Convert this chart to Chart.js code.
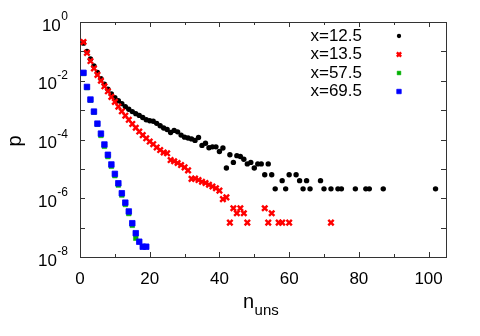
<!DOCTYPE html>
<html>
<head>
<meta charset="utf-8">
<script src="https://cdn.jsdelivr.net/npm/chart.js@4"></script>
<style>
body { margin: 0; background: #fff; }
</style>
</head>
<body>
<canvas id="chart" width="480" height="336"></canvas>
<script>
// values; y kept as log10(p)
const seriesLabels = ['x=12.5', 'x=13.5', 'x=57.5', 'x=69.5'];

const nBlack = [1, 2, 3, 4, 5, 6, 7, 8, 9, 10,
    11, 12, 13, 14, 15, 16, 17, 18, 19, 20,
    21, 22, 23, 24, 25, 26, 27, 28, 29, 30,
    31, 32, 33, 34, 35, 36, 37, 38, 39, 40,
    41, 42, 43, 44, 45, 46, 47, 48, 49, 50,
    51, 52, 53, 54, 55, 56, 58, 59, 60, 62,
    63, 64, 65, 66, 69, 70, 72, 74, 75, 79,
    82, 83, 87, 102];
const logBlack = [-0.72, -1.00, -1.26, -1.50, -1.72, -1.93, -2.12, -2.29, -2.45, -2.58,
    -2.68, -2.78, -2.88, -2.97, -3.05, -3.12, -3.18, -3.25, -3.33, -3.36,
    -3.38, -3.45, -3.53, -3.61, -3.66, -3.76, -3.69, -3.74, -3.85, -3.92,
    -3.95, -3.98, -4.03, -3.93, -4.20, -4.13, -4.28, -4.25, -4.25, -4.41,
    -4.29, -4.97, -4.52, -4.78, -4.55, -4.58, -4.67, -4.83, -4.78, -4.97,
    -4.83, -4.83, -5.20, -4.83, -5.20, -5.68, -5.40, -5.68, -5.20, -5.20,
    -5.40, -5.68, -5.40, -5.68, -5.40, -5.68, -5.68, -5.68, -5.68, -5.68,
    -5.68, -5.68, -5.68, -5.68];

const nRed = [1, 2, 3, 4, 5, 6, 7, 8, 9, 10,
    11, 12, 13, 14, 15, 16, 17, 18, 19, 20,
    21, 22, 23, 24, 25, 26, 27, 28, 29, 30,
    31, 32, 33, 34, 35, 36, 37, 38, 39, 40,
    41, 42, 43, 44, 45, 46, 47, 48, 53, 54,
    55, 57, 58, 60, 72];
const logRed = [-0.68, -1.05, -1.33, -1.58, -1.80, -2.00, -2.19, -2.36, -2.55, -2.72,
    -2.88, -3.04, -3.19, -3.33, -3.47, -3.60, -3.73, -3.85, -3.96, -4.07,
    -4.16, -4.27, -4.36, -4.44, -4.47, -4.70, -4.74, -4.80, -4.87, -4.95,
    -5.05, -5.34, -5.33, -5.38, -5.44, -5.48, -5.54, -5.60, -5.66, -5.74,
    -6.03, -5.97, -6.83, -6.34, -6.51, -6.34, -6.51, -6.83, -6.34, -6.83,
    -6.51, -6.83, -6.83, -6.83, -6.83];

const nGreen = [1, 2, 3, 4, 5, 6, 7, 8, 9, 10, 11, 12, 13, 14, 15, 16];
const logGreen = [-1.75, -2.23, -2.66, -3.07, -3.48, -3.86, -4.23, -4.58, -4.91, -5.23,
    -5.55, -5.89, -6.21, -6.52, -6.92, -7.36];

const nBlue = [1, 2, 3, 4, 5, 6, 7, 8, 9, 10, 11, 12, 13, 14, 15, 16, 17, 18, 19];
const logBlue = [-1.73, -2.21, -2.64, -3.05, -3.46, -3.80, -4.17, -4.52, -4.85, -5.17,
    -5.49, -5.83, -6.15, -6.45, -6.85, -7.19, -7.48, -7.65, -7.65];

const xTickLabels = [0, 20, 40, 60, 80, 100];
const yExponents = [0, -2, -4, -6, -8];

const FONT = '"Liberation Sans", Arial, Helvetica, sans-serif';

function toPoints(xs, logs) {
    return xs.map((n, i) => ({ x: n, y: Math.pow(10, logs[i]) }));
}

const styles = [
    { pointStyle: 'circle', pointRadius: 2.7, backgroundColor: '#000000', borderColor: '#000000', pointBorderWidth: 0 },
    { pointStyle: 'crossRot', pointRadius: 3.8, backgroundColor: '#ff0000', borderColor: '#ff0000', pointBorderWidth: 2.4 },
    { pointStyle: 'rect', pointRadius: 3.3, backgroundColor: '#00b000', borderColor: '#00b000', pointBorderWidth: 0.5 },
    { pointStyle: 'rect', pointRadius: 3.9, backgroundColor: '#0000ff', borderColor: '#0000ff', pointBorderWidth: 0.8 }
];

const gnuFrame = {
    id: 'gnuFrame',
    beforeDatasetsDraw(chart) {
        const ctx = chart.ctx;
        const a = chart.chartArea;
        const xs = chart.scales.x;
        const ys = chart.scales.y;
        ctx.save();
        ctx.strokeStyle = '#333';
        ctx.lineWidth = 1;
        ctx.strokeRect(Math.round(a.left) + 0.5, Math.round(a.top) + 0.5,
            Math.round(a.right - a.left), Math.round(a.bottom - a.top));
        ctx.beginPath();
        for (let v = 0; v <= 100; v += 10) {
            const px = Math.round(xs.getPixelForValue(v)) + 0.5;
            const len = v % 20 === 0 ? 5 : 3;
            ctx.moveTo(px, a.bottom); ctx.lineTo(px, a.bottom - len);
            ctx.moveTo(px, a.top); ctx.lineTo(px, a.top + len);
        }
        for (let e = 0; e >= -8; e--) {
            const py = Math.round(ys.getPixelForValue(Math.pow(10, e))) + 0.5;
            ctx.moveTo(a.left, py); ctx.lineTo(a.left + 5, py);
            ctx.moveTo(a.right, py); ctx.lineTo(a.right - 5, py);
        }
        ctx.stroke();
        ctx.restore();
    },
    afterDraw(chart) {
        const ctx = chart.ctx;
        const ys = chart.scales.y;
        ctx.save();
        ctx.fillStyle = '#000';
        // y tick labels 10^e
        yExponents.forEach(e => {
            const py = ys.getPixelForValue(Math.pow(10, e));
            const ex = String(e);
            ctx.font = '12px ' + FONT;
            const ew = ctx.measureText(ex).width;
            ctx.textAlign = 'left';
            ctx.textBaseline = 'alphabetic';
            ctx.fillText(ex, 68 - ew, py - 2);
            ctx.font = '17px ' + FONT;
            ctx.textAlign = 'right';
            ctx.fillText('10', 68 - ew - 0.5, py + 8.5);
        });
        // axis titles
        ctx.font = '20px ' + FONT;
        ctx.textAlign = 'left';
        ctx.fillText('n', 243, 308);
        const nw = ctx.measureText('n').width;
        ctx.font = '15px ' + FONT;
        ctx.fillText('uns', 243 + nw + 0.5, 315);
        ctx.save();
        ctx.translate(21, 141);
        ctx.rotate(-Math.PI / 2);
        ctx.font = '20px ' + FONT;
        ctx.textAlign = 'center';
        ctx.fillText('p', 0, 0);
        ctx.restore();
        // legend
        const rows = [36, 54.5, 73, 91.5];
        chart.data.datasets.forEach((ds, i) => {
            ctx.font = '17px ' + FONT;
            ctx.textAlign = 'right';
            ctx.textBaseline = 'middle';
            ctx.fillStyle = '#000';
            ctx.fillText(seriesLabels[i], 362, rows[i]);
            ctx.fillStyle = ds.backgroundColor;
            ctx.strokeStyle = ds.borderColor;
            ctx.lineWidth = ds.pointBorderWidth;
            Chart.helpers.drawPoint(ctx, {
                pointStyle: ds.pointStyle,
                radius: ds.pointRadius * 0.8,
                rotation: 0,
                borderWidth: ds.pointBorderWidth
            }, 399, rows[i]);
        });
        ctx.restore();
    }
};

const datasets = [
    Object.assign({ label: seriesLabels[0], data: toPoints(nBlack, logBlack), order: 4 }, styles[0]),
    Object.assign({ label: seriesLabels[1], data: toPoints(nRed, logRed), order: 3 }, styles[1]),
    Object.assign({ label: seriesLabels[2], data: toPoints(nGreen, logGreen), order: 2 }, styles[2]),
    Object.assign({ label: seriesLabels[3], data: toPoints(nBlue, logBlue), order: 1 }, styles[3])
];

new Chart(document.getElementById('chart').getContext('2d'), {
    type: 'scatter',
    data: { datasets: datasets },
    options: {
        responsive: false,
        animation: false,
        events: [],
        layout: { padding: { top: 22, right: 34, left: 0, bottom: 0 } },
        plugins: { legend: { display: false }, tooltip: { enabled: false } },
        scales: {
            x: {
                type: 'linear',
                min: 0,
                max: 105,
                grid: { display: false, drawTicks: false },
                border: { display: false },
                afterBuildTicks: scale => { scale.ticks = xTickLabels.map(v => ({ value: v })); },
                afterFit: scale => { scale.height = 79; },
                ticks: {
                    color: '#000',
                    padding: 12,
                    maxRotation: 0,
                    font: { size: 17, family: FONT }
                }
            },
            y: {
                type: 'logarithmic',
                min: 1e-8,
                max: 1,
                grid: { display: false, drawTicks: false },
                border: { display: false },
                afterFit: scale => { scale.width = 80; },
                ticks: { display: false }
            }
        }
    },
    plugins: [gnuFrame]
});
</script>
</body>
</html>
